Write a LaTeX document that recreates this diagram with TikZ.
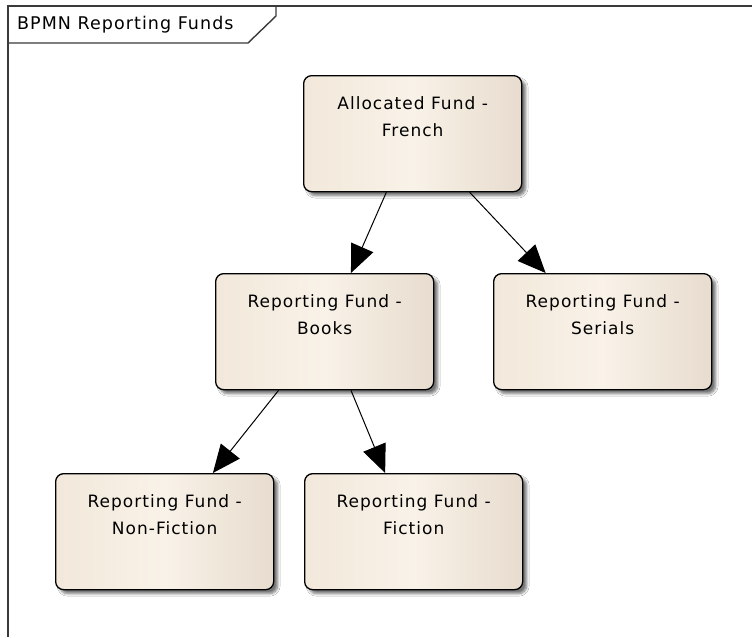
\documentclass[tikz,border=0pt]{standalone}
\usepackage{fontspec}
\setmainfont{DejaVu Sans}[LetterSpace=6]
\usetikzlibrary{arrows.meta, shadows.blur, calc}

\definecolor{fundL}{HTML}{F2E8DB}
\definecolor{fundM}{HTML}{F9F2E8}
\definecolor{fundR}{HTML}{E7DCCE}
\definecolor{framegray}{HTML}{3A3A3A}

\tikzset{
  fund/.style={draw=black, line width=1.3pt, rounded corners=8pt,
    minimum width=218pt, minimum height=116pt, anchor=north west, inner sep=0pt,
    left color=fundL, right color=fundR, middle color=fundM,
    blur shadow={shadow xshift=4pt, shadow yshift=-4pt, shadow blur steps=6,
      shadow blur radius=2.5pt, shadow opacity=55}},
  fundtext/.style={anchor=north, align=center, inner sep=0pt,
    font=\fontsize{17pt}{27pt}\selectfont},
  flow/.style={-{Triangle[length=28pt, width=24pt]}, line width=1pt, black},
  frameline/.style={draw=framegray, line width=2pt},
  tabline/.style={draw=framegray, line width=1.4pt},
}

\begin{document}
\begin{tikzpicture}[x=1pt, y=-1pt]
  \useasboundingbox[fill=white] (0,0) rectangle (752,637);

  % diagram frame and its name tab
  \draw[frameline] (752,6) -- (8,6) -- (8,637);
  \draw[tabline] (8,43) -- (248,43) -- (276,16) -- (276,6);
  \node[anchor=west, inner sep=0pt, font=\fontsize{17.5pt}{20pt}\selectfont]
    (title) at (17,25) {BPMN Reporting Funds};

  % fund boxes
  \node[fund] (n1) at (303,75)  {};
  \node[fund] (n2) at (215,273) {};
  \node[fund] (n3) at (493,273) {};
  \node[fund] (n4) at (55,473)  {};
  \node[fund] (n5) at (304,473) {};

  % box captions
  \node[fundtext] (t1) at ($(n1.north)+(0,21)$) {Allocated Fund -\\French};
  \node[fundtext] (t2) at ($(n2.north)+(0,21)$) {Reporting Fund -\\Books};
  \node[fundtext] (t3) at ($(n3.north)+(0,21)$) {Reporting Fund -\\Serials};
  \node[fundtext] (t4) at ($(n4.north)+(0,21)$) {Reporting Fund -\\Non-Fiction};
  \node[fundtext] (t5) at ($(n5.north)+(0,21)$) {Reporting Fund -\\Fiction};

  % hierarchy connectors
  \draw[flow] ($(n1.south west)!0.38!(n1.south east)$) -- ($(n2.north west)!0.62!(n2.north east)$);
  \draw[flow] ($(n1.south west)!0.76!(n1.south east)$) -- ($(n3.north west)!0.24!(n3.north east)$);
  \draw[flow] ($(n2.south west)!0.29!(n2.south east)$) -- ($(n4.north west)!0.72!(n4.north east)$);
  \draw[flow] ($(n2.south west)!0.62!(n2.south east)$) -- ($(n5.north west)!0.37!(n5.north east)$);
\end{tikzpicture}
\end{document}
